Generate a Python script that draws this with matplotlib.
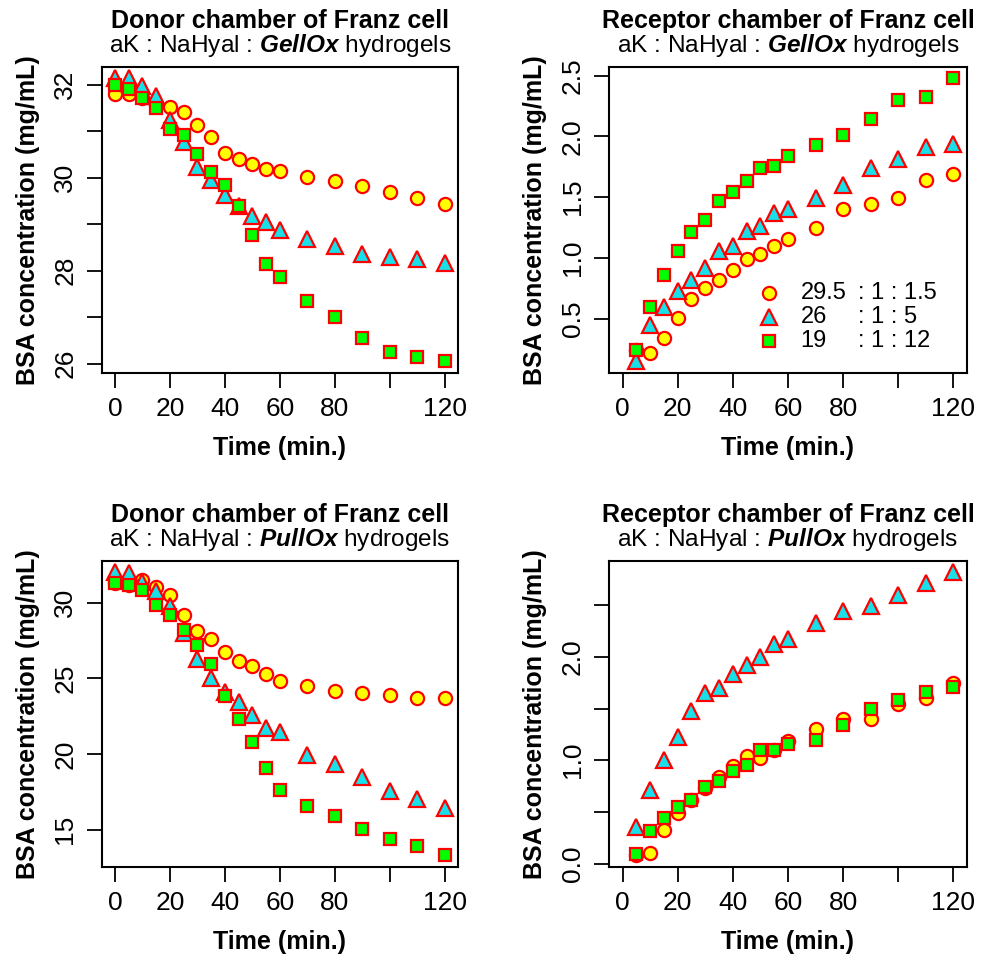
import numpy as np
import matplotlib
matplotlib.use('Agg')
import matplotlib.pyplot as plt

plt.rcParams['font.family'] = ['Liberation Sans', 'DejaVu Sans']
plt.rcParams['mathtext.fontset'] = 'custom'
plt.rcParams['mathtext.rm'] = 'Liberation Sans'
plt.rcParams['mathtext.bfit'] = 'Liberation Sans:bold:italic'

# sampling times (min.)
t_donor = [0, 5, 10, 15, 20, 25, 30, 35, 40, 45, 50, 55, 60, 70, 80, 90, 100, 110, 120]
t_rec = [5, 10, 15, 20, 25, 30, 35, 40, 45, 50, 55, 60, 70, 80, 90, 100, 110, 120]

# GellOx - donor chamber
gel_don_a = [31.80, 31.80, 31.70, 31.55, 31.51, 31.42, 31.12, 30.87, 30.53, 30.39,
             30.29, 30.19, 30.14, 30.01, 29.92, 29.81, 29.69, 29.57, 29.44]
gel_don_b = [32.14, 32.14, 31.96, 31.76, 31.24, 30.76, 30.23, 29.94, 29.62, 29.39,
             29.17, 29.05, 28.87, 28.67, 28.53, 28.36, 28.30, 28.24, 28.17]
gel_don_c = [32.00, 31.91, 31.71, 31.50, 31.05, 30.91, 30.51, 30.12, 29.85, 29.39,
             28.76, 28.14, 27.86, 27.35, 27.01, 26.55, 26.24, 26.14, 26.05]

# GellOx - receptor chamber
gel_rec_a = [0.24, 0.22, 0.34, 0.51, 0.66, 0.75, 0.82, 0.90, 0.99, 1.03,
             1.10, 1.16, 1.25, 1.40, 1.44, 1.49, 1.64, 1.69]
gel_rec_b = [0.15, 0.45, 0.60, 0.73, 0.82, 0.92, 1.06, 1.10, 1.22, 1.26,
             1.37, 1.40, 1.49, 1.60, 1.74, 1.81, 1.91, 1.94]
gel_rec_c = [0.24, 0.60, 0.86, 1.06, 1.21, 1.31, 1.47, 1.54, 1.63, 1.74,
             1.76, 1.84, 1.93, 2.01, 2.14, 2.30, 2.32, 2.48]

# PullOx - donor chamber
pul_don_a = [31.32, 31.16, 31.47, 31.05, 30.48, 29.19, 28.13, 27.58, 26.77, 26.16,
             25.83, 25.28, 24.84, 24.47, 24.18, 24.00, 23.89, 23.70, 23.70]
pul_don_b = [32.02, 31.98, 31.38, 30.77, 29.78, 28.02, 26.27, 25.01, 24.07, 23.45,
             22.60, 21.70, 21.43, 19.94, 19.35, 18.51, 17.55, 17.04, 16.45]
pul_don_c = [31.32, 31.16, 30.81, 29.85, 29.19, 28.18, 27.21, 25.94, 23.81, 22.31,
             20.82, 19.08, 17.63, 16.60, 15.94, 15.06, 14.36, 13.90, 13.31]

# PullOx - receptor chamber
pul_rec_a = [0.08, 0.10, 0.33, 0.49, 0.62, 0.73, 0.84, 0.94, 1.04, 1.02,
             1.10, 1.19, 1.30, 1.40, 1.40, 1.54, 1.60, 1.75]
pul_rec_b = [0.35, 0.71, 1.00, 1.22, 1.48, 1.65, 1.70, 1.83, 1.92, 2.00,
             2.12, 2.17, 2.33, 2.44, 2.49, 2.60, 2.71, 2.82]
pul_rec_c = [0.09, 0.32, 0.44, 0.55, 0.62, 0.74, 0.80, 0.90, 0.95, 1.10,
             1.10, 1.16, 1.20, 1.34, 1.50, 1.58, 1.66, 1.71]

legend_first = ['29.5', '26', '19']
legend_rest = [': 1 : 1.5', ': 1 : 5', ': 1 : 12']

x_ticks = [0, 20, 40, 60, 80, 100, 120]
x_labels = ['0', '20', '40', '60', '80', '', '120']

styles = [
    dict(marker='o', ms=9.5, mfc='#FFFF00', mec='#FF0000', mew=1.6, ls='none'),
    dict(marker='^', ms=11.5, mfc='#19E0E8', mec='#FF0000', mew=1.6, ls='none'),
    dict(marker='s', ms=8.5, mfc='#00FF00', mec='#FF0000', mew=1.6, ls='none'),
]

fig = plt.figure(figsize=(9.87, 9.58), dpi=100)

panels = [
    ([0.1030, 0.6110, 0.3610, 0.3194], 'Donor chamber of Franz cell', 'GellOx', t_donor,
     [gel_don_a, gel_don_b, gel_don_c], [26, 27, 28, 29, 30, 31, 32],
     ['26', '', '28', '', '30', '', '32']),
    ([0.6173, 0.6110, 0.3621, 0.3194], 'Receptor chamber of Franz cell', 'GellOx', t_rec,
     [gel_rec_a, gel_rec_b, gel_rec_c], [0.5, 1.0, 1.5, 2.0, 2.5],
     ['0.5', '1.0', '1.5', '2.0', '2.5']),
    ([0.1030, 0.0953, 0.3610, 0.3194], 'Donor chamber of Franz cell', 'PullOx', t_donor,
     [pul_don_a, pul_don_b, pul_don_c], [15, 20, 25, 30],
     ['15', '20', '25', '30']),
    ([0.6173, 0.0953, 0.3621, 0.3194], 'Receptor chamber of Franz cell', 'PullOx', t_rec,
     [pul_rec_a, pul_rec_b, pul_rec_c], [0.0, 0.5, 1.0, 1.5, 2.0, 2.5],
     ['0.0', '', '1.0', '', '2.0', '']),
]

axes = []
for rect, title, gel, t, series, yt, ytl in panels:
    ax = fig.add_axes(rect)
    for y, st in zip(series, styles):
        ax.plot(t, y, **st)
    ax.set_xlim(-4.8, 124.8)
    ax.margins(y=0.04)
    ax.set_xticks(x_ticks)
    ax.set_xticklabels(x_labels)
    ax.set_yticks(yt)
    ax.set_yticklabels(ytl)
    ax.tick_params(direction='out', length=10.5, width=1.3, labelsize=19, pad=7)
    ax.tick_params(axis='y', labelrotation=90)
    for lbl in ax.get_yticklabels():
        lbl.set_va('center')
    for s in ax.spines.values():
        s.set_linewidth(1.5)

    ax.set_xlabel('Time (min.)', fontsize=18, fontweight='bold')
    ax.xaxis.set_label_coords(0.5, -0.245)
    ax.xaxis.label.set_va('center')
    ax.set_ylabel('BSA concentration (mg/mL)', fontsize=18, fontweight='bold')
    ax.yaxis.set_label_coords(-0.207, 0.5)
    ax.yaxis.label.set_va('center')

    ax.text(0.5, 1.1255, title, transform=ax.transAxes, ha='center', va='baseline',
            fontsize=18, fontweight='bold')
    ax.text(0.5, 1.049, r'aK : NaHyal : $\mathbfit{' + gel + '}$ hydrogels',
            transform=ax.transAxes, ha='center', va='baseline', fontsize=17.6)
    axes.append(ax)

# legend in the receptor / GellOx panel
ax = axes[1]
rows_y = [0.259, 0.181, 0.102]
for ry, st, a, b in zip(rows_y, styles, legend_first, legend_rest):
    ax.plot([0.447], [ry], transform=ax.transAxes, clip_on=False, **st)
    ax.text(0.535, ry, a, transform=ax.transAxes, ha='left', va='center', fontsize=17)
    ax.text(0.697, ry, b, transform=ax.transAxes, ha='left', va='center', fontsize=17)

fig.savefig('out.png', dpi=100)
